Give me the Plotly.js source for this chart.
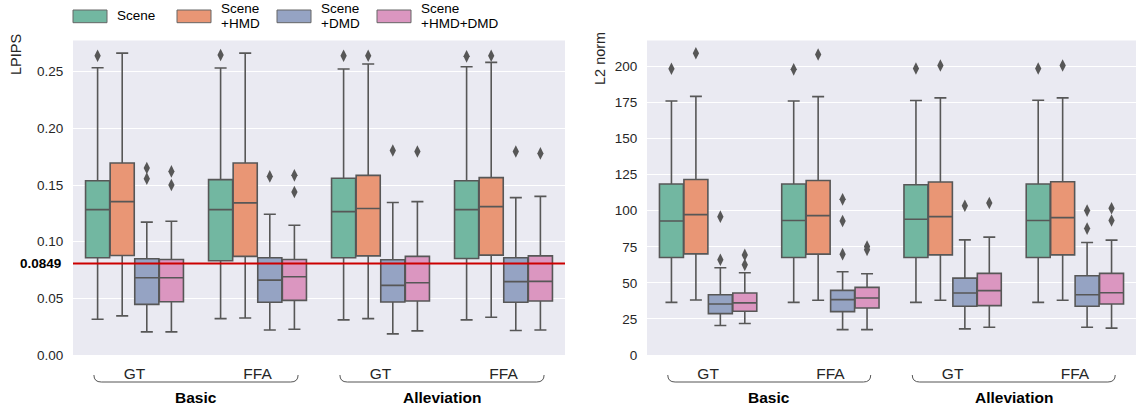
<!DOCTYPE html>
<html><head><meta charset="utf-8">
<script src="https://cdn.plot.ly/plotly-3.0.1.min.js"></script>
<style>html,body{margin:0;padding:0;background:#fff}</style>
</head><body><div id="chart" style="width:1136px;height:408px"></div>
<script>
// ---------- data ----------
const categories = ['GT', 'FFA', 'GT', 'FFA'];
const groupLabels = ['Basic', 'Alleviation'];
const hueNames = ['Scene', 'Scene +HMD', 'Scene +DMD', 'Scene +HMD+DMD'];
const legendLines = [['Scene'], ['Scene', '+HMD'], ['Scene', '+DMD'], ['Scene', '+HMD+DMD']];
const hueColors = ['#72b7a1', '#e99675', '#95a3c3', '#db96c0'];
const lpipsTicks = [0, 0.05, 0.10, 0.15, 0.20, 0.25];
const l2Ticks = [0, 25, 50, 75, 100, 125, 150, 175, 200];
const thresholdLabel = '0.0849';   // label printed beside the red line
const thresholdLine = 0.0808;      // height where the red line is drawn in the picture

// LPIPS (order: Basic-GT, Basic-FFA, Alleviation-GT, Alleviation-FFA)
const lpipsScene = {low:[0.0315,0.0321,0.0310,0.0310], q1:[0.0858,0.0831,0.0858,0.0852], med:[0.1283,0.1283,0.1265,0.1283], q3:[0.1538,0.1547,0.1559,0.1538], up:[0.2535,0.2532,0.2523,0.2544], out:[[0.2640],[0.2647],[0.2640],[0.2635]]};
const lpipsHMD = {low:[0.0345,0.0327,0.0321,0.0333], q1:[0.0878,0.0870,0.0875,0.0881], med:[0.1353,0.1342,0.1292,0.1309], q3:[0.1694,0.1694,0.1585,0.1565], up:[0.2664,0.2664,0.2567,0.2582], out:[[],[],[0.2640],[0.2640]]};
const lpipsDMD = {low:[0.0204,0.0221,0.0186,0.0216], q1:[0.0447,0.0465,0.0468,0.0465], med:[0.0682,0.0661,0.0614,0.0647], q3:[0.0849,0.0858,0.0840,0.0858], up:[0.1172,0.1242,0.1345,0.1389], out:[[0.1650,0.1556],[0.1576],[0.1805],[0.1796]]};
const lpipsHMDDMD = {low:[0.0204,0.0227,0.0213,0.0221], q1:[0.0470,0.0482,0.0477,0.0477], med:[0.0682,0.0691,0.0638,0.0650], q3:[0.0843,0.0843,0.0870,0.0875], up:[0.1180,0.1145,0.1353,0.1400], out:[[0.1620,0.1500],[0.1585,0.1438],[0.1796],[0.1779]]};

// L2 norm
const l2Scene = {low:[36.5,36.5,36.5,36.5], q1:[67.6,67.6,67.6,67.6], med:[92.9,93.2,94.1,93.2], q3:[118.5,118.5,118.0,118.5], up:[176.1,176.1,176.4,176.6], out:[[198.4],[198.0],[198.6],[198.6]]};
const l2HMD = {low:[38.1,37.9,37.9,37.9], q1:[70.1,69.9,69.4,69.4], med:[97.3,96.6,95.9,95.2], q3:[121.7,121.0,119.9,120.1], up:[179.3,179.1,178.2,178.2], out:[[209.2],[208.3],[200.7],[200.7]]};
const l2DMD = {low:[20.4,17.6,18.1,19.2], q1:[28.7,30.1,33.8,33.8], med:[35.4,38.4,43.0,41.8], q3:[41.8,44.8,53.3,54.9], up:[60.5,57.7,79.8,78.0], out:[[95.9,66.0],[107.9,92.9,69.9],[103.5],[100.1,87.6]]};
const l2HMDDMD = {low:[21.8,17.6,19.2,18.6], q1:[30.3,32.6,34.2,35.4], med:[36.1,39.5,44.6,43.2], q3:[43.0,46.9,56.6,56.6], up:[57.0,56.3,81.7,79.6], out:[[69.4,62.5],[75.2,72.9],[105.4],[101.7,93.2]]};

// ---------- build ----------
const W = 1136, H = 408;
const gray = '#575757';
const FONT = 'Liberation Sans, Arial, sans-serif';
const hueOffsets = [-0.3, -0.1, 0.1, 0.3];
const boxW = 0.196;
const px = v => v / W;
const py = v => 1 - v / H;

const traces = [];
function addSeries(series, hi, xa, ya) {
  const xs = categories.map((c, i) => i + hueOffsets[hi]);
  traces.push({
    type: 'box', name: hueNames[hi], xaxis: xa, yaxis: ya, x: xs,
    q1: series.q1, median: series.med, q3: series.q3,
    lowerfence: series.low, upperfence: series.up,
    width: boxW, whiskerwidth: 0.5, fillcolor: hueColors[hi],
    line: {color: gray, width: 1.6}, boxpoints: false, showlegend: false, hoverinfo: 'skip'
  });
  const ox = [], oy = [];
  series.out.forEach((arr, i) => arr.forEach(v => { ox.push(i + hueOffsets[hi]); oy.push(v); }));
  traces.push({
    type: 'scatter', mode: 'markers', xaxis: xa, yaxis: ya, x: ox, y: oy,
    marker: {symbol: 'diamond-tall', size: 9, color: gray, line: {width: 0}},
    showlegend: false, hoverinfo: 'skip'
  });
}
[lpipsScene, lpipsHMD, lpipsDMD, lpipsHMDDMD].forEach((s, i) => addSeries(s, i, 'x', 'y'));
[l2Scene, l2HMD, l2DMD, l2HMDDMD].forEach((s, i) => addSeries(s, i, 'x2', 'y2'));

const shapes = [];
const annotations = [];

// threshold line
shapes.push({type: 'line', xref: 'x', yref: 'y', x0: -0.5, x1: 3.5, y0: thresholdLine, y1: thresholdLine,
  line: {color: '#cc0000', width: 2}, layer: 'above'});
annotations.push({xref: 'paper', yref: 'y', x: px(63), y: thresholdLine, xanchor: 'right', yanchor: 'middle',
  text: '<b>' + thresholdLabel + '</b>', showarrow: false, font: {family: FONT, size: 13.5, color: '#000'}});

// brackets and group labels
['x', 'x2'].forEach(xr => {
  groupLabels.forEach((g, gi) => {
    const a = 2 * gi - 0.33, b = 2 * gi + 1 + 0.33, r = 0.06;
    const yt = py(375), yb = py(382);
    shapes.push({type: 'path', xref: xr, yref: 'paper',
      path: `M${a},${yt} Q${a},${yb} ${a + r},${yb} L${b - r},${yb} Q${b},${yb} ${b},${yt}`,
      line: {color: '#555', width: 1}});
    annotations.push({xref: xr, yref: 'paper', x: 2 * gi + 0.5, y: py(397), xanchor: 'center', yanchor: 'middle',
      text: '<b>' + g + '</b>', showarrow: false, font: {family: FONT, size: 15.5, color: '#000'}});
  });
});

// y titles
annotations.push({xref: 'paper', yref: 'paper', x: px(16), y: py(55), textangle: -90, text: 'LPIPS',
  showarrow: false, xanchor: 'center', yanchor: 'middle', font: {family: FONT, size: 14.5, color: '#262626'}});
annotations.push({xref: 'paper', yref: 'paper', x: px(600), y: py(59), textangle: -90, text: 'L2 norm',
  showarrow: false, xanchor: 'center', yanchor: 'middle', font: {family: FONT, size: 14.5, color: '#262626'}});

// custom legend
const swX = [73, 177, 277, 377];
swX.forEach((x0, i) => {
  shapes.push({type: 'rect', xref: 'paper', yref: 'paper', x0: px(x0), x1: px(x0 + 34), y0: py(22.7), y1: py(10),
    fillcolor: hueColors[i], line: {color: '#666', width: 1}});
  const lines = legendLines[i];
  const ys = lines.length === 1 ? [15.7] : [8.5, 23.5];
  lines.forEach((t, li) => annotations.push({xref: 'paper', yref: 'paper', x: px(x0 + 42), y: py(ys[li]),
    xanchor: 'left', yanchor: 'middle', text: t, showarrow: false, font: {family: FONT, size: 13.5, color: '#000'}}));
});

const yDom = [1 - 355 / H, 1 - 40.5 / H];
const baseX = {range: [-0.5, 3.5], tickvals: [0, 1, 2, 3], ticktext: categories, showgrid: false, zeroline: false,
  ticks: 'outside', ticklen: 4, tickcolor: 'rgba(0,0,0,0)', tickfont: {family: FONT, size: 15.5, color: '#262626'},
  fixedrange: true};
const baseY = {showgrid: true, gridcolor: '#ffffff', gridwidth: 1, zeroline: false, ticks: 'outside', ticklen: 6,
  tickcolor: 'rgba(0,0,0,0)', tickfont: {family: FONT, size: 13.5, color: '#262626'}, domain: yDom, fixedrange: true};

const layout = {
  width: W, height: H, margin: {l: 0, r: 0, t: 0, b: 0},
  paper_bgcolor: '#ffffff', plot_bgcolor: '#eaeaf2', boxmode: 'overlay', showlegend: false,
  font: {family: FONT},
  xaxis: Object.assign({}, baseX, {domain: [73 / W, 565 / W], anchor: 'y'}),
  xaxis2: Object.assign({}, baseX, {domain: [647 / W, 1], anchor: 'y2'}),
  yaxis: Object.assign({}, baseY, {range: [0, 0.2775], tickvals: lpipsTicks, ticktext: lpipsTicks.map(v => v.toFixed(2)), anchor: 'x'}),
  yaxis2: Object.assign({}, baseY, {range: [0, 218], tickvals: l2Ticks, anchor: 'x2'}),
  shapes: shapes, annotations: annotations
};

Plotly.newPlot('chart', traces, layout, {staticPlot: true, displayModeBar: false});
</script></body></html>
